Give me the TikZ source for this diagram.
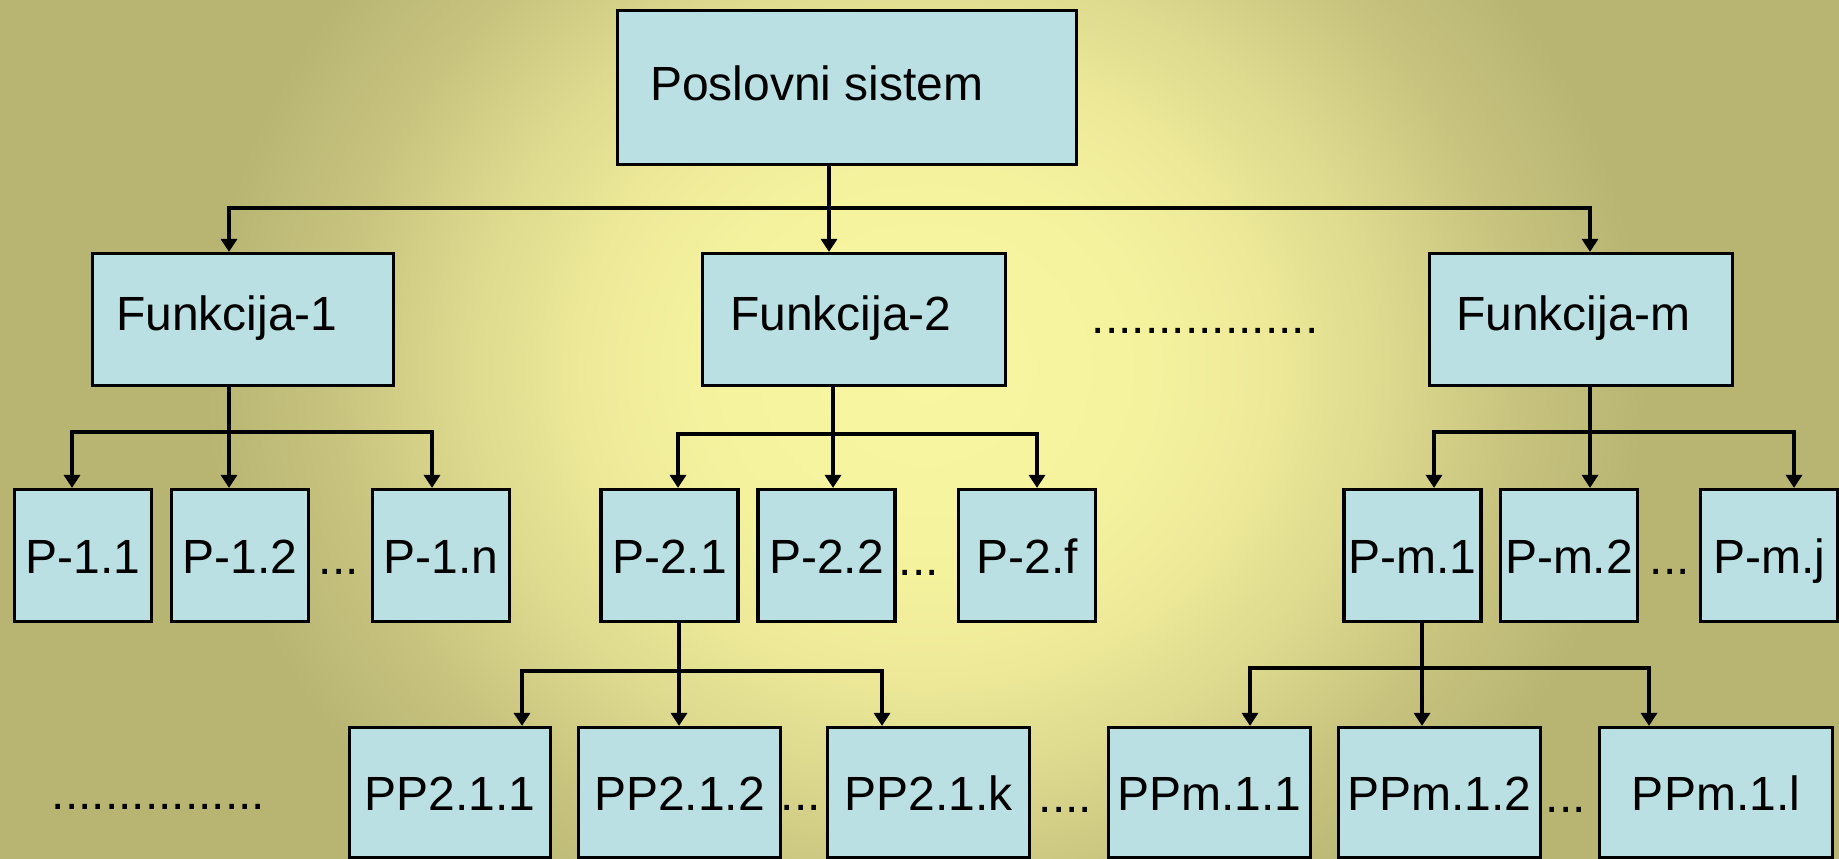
\documentclass[tikz,border=0pt]{standalone}
\usepackage{fontspec}
\setmainfont{Liberation Sans}
\usetikzlibrary{arrows.meta}

\definecolor{boxfill}{RGB}{187,224,227}
\definecolor{bgA}{RGB}{248,246,160}
\definecolor{bgB}{RGB}{247,244,159}
\definecolor{bgC}{RGB}{245,242,158}
\definecolor{bgD}{RGB}{236,232,152}
\definecolor{bgE}{RGB}{220,216,141}
\definecolor{bgF}{RGB}{200,196,127}
\definecolor{bgG}{RGB}{185,182,116}
\definecolor{bgH}{RGB}{184,180,114}

% soft yellow glow fading to olive towards the edges
% (the path's half-size corresponds to 25bp)
\pgfdeclareradialshading{glow}{\pgfpoint{0bp}{0bp}}{%
  color(0bp)=(bgA); color(5bp)=(bgB); color(8bp)=(bgC);
  color(12.25bp)=(bgD); color(16.25bp)=(bgE); color(20.5bp)=(bgF);
  color(24.75bp)=(bgG); color(25bp)=(bgH); color(50bp)=(bgH)}

\newcommand\lblfont{\fontsize{48pt}{56pt}\selectfont}

\begin{document}
\begin{tikzpicture}[x=1pt,y=-1pt,
  box/.style={draw=black, line width=3.2pt, fill=boxfill, inner sep=0pt,
              font=\lblfont, text height=36pt, text depth=0pt},
  lbl/.style={inner sep=0pt, anchor=base west, font=\lblfont},
  conn/.style={draw=black, line width=3.3pt},
  arr/.style={conn, -{Triangle[length=13pt,width=16pt]}}]

% page and background
\useasboundingbox (0,0) rectangle (1839,859);
\fill[bgH] (0,0) rectangle (1839,859);
\begin{scope}
  \clip (0,0) rectangle (1839,859);
  \shade[shading=glow] (205,-270) rectangle (1645,1010);
\end{scope}

% root
\node[box, minimum width=459pt, minimum height=154pt] (root) at (847,87.5) {};
\node[lbl] (rootT) at (650,100) {Poslovni sistem};

% functions
\node[box, minimum width=301pt, minimum height=132pt] (f1) at (243,319.5) {};
\node[box, minimum width=303pt, minimum height=132pt] (f2) at (854,319.5) {};
\node[box, minimum width=303pt, minimum height=132pt] (fm) at (1581,319.5) {};
\node[lbl] (f1T) at (116,330) {Funkcija-1};
\node[lbl] (f2T) at (730,330) {Funkcija-2};
\node[lbl] (fmT) at (1456,330) {Funkcija-m};
\node[lbl] (fdots) at (1091.5,333) {.................};

% processes
\node[box, minimum width=137pt, minimum height=132pt] (p11) at (83,555.5) {P-1.1};
\node[box, minimum width=137pt, minimum height=132pt] (p12) at (240,555.5) {P-1.2};
\node[box, minimum width=137pt, minimum height=132pt] (p1n) at (441,555.5) {P-1.n};
\node[box, minimum width=137pt, minimum height=132pt] (p21) at (669.5,555.5) {P-2.1};
\node[box, minimum width=137pt, minimum height=132pt] (p22) at (826.5,555.5) {P-2.2};
\node[box, minimum width=137pt, minimum height=132pt] (p2f) at (1027,555.5) {P-2.f};
\node[box, minimum width=137pt, minimum height=132pt] (pm1) at (1412.5,555.5) {P-m.1};
\node[box, minimum width=137pt, minimum height=132pt] (pm2) at (1569,555.5) {P-m.2};
\node[box, minimum width=137pt, minimum height=132pt] (pmj) at (1769,555.5) {P-m.j};
\node[lbl] (d1) at (318.5,574) {...};
\node[lbl] (d2) at (898.5,575) {...};
\node[lbl] (d3) at (1649.5,574) {...};

% sub-processes
\node[box, minimum width=201pt, minimum height=130pt] (pp211) at (450,792.5) {PP2.1.1};
\node[box, minimum width=202pt, minimum height=130pt] (pp212) at (679.5,792.5) {PP2.1.2};
\node[box, minimum width=202pt, minimum height=130pt] (pp21k) at (928.5,792.5) {PP2.1.k};
\node[box, minimum width=202pt, minimum height=130pt] (ppm11) at (1209.5,792.5) {PPm.1.1};
\node[box, minimum width=202pt, minimum height=130pt] (ppm12) at (1439.5,792.5) {PPm.1.2};
\node[box, minimum width=233pt, minimum height=130pt] (ppm1l) at (1716,792.5) {PPm.1.l};
\node[lbl] (d4) at (51.5,809) {................};
\node[lbl] (d5) at (780.5,810) {...};
\node[lbl] (d6) at (1038.5,812) {....};
\node[lbl] (d7) at (1545.5,812) {...};

% junctions on the branch lines
\coordinate (j0) at (829,208);  \coordinate (k1) at (229,208);  \coordinate (km) at (1590,208);
\coordinate (j1) at (229,432);  \coordinate (k11) at (72,432);  \coordinate (k1n) at (432,432);
\coordinate (j2) at (833,434);  \coordinate (k21) at (678,434); \coordinate (k2f) at (1037,434);
\coordinate (jm) at (1590,432); \coordinate (km1) at (1434,432); \coordinate (kmj) at (1794,432);
\coordinate (j3) at (679,671);  \coordinate (k3a) at (522,671); \coordinate (k3c) at (882,671);
\coordinate (j4) at (1422,668); \coordinate (k4a) at (1250,668); \coordinate (k4c) at (1649,668);

% root -> functions
\draw[conn] (root.south -| j0) -- (j0);
\draw[arr] (j0) -| (f1.north -| k1);
\draw[arr] (j0) -- (f2.north -| j0);
\draw[arr] (j0) -| (fm.north -| km);

% Funkcija-1 -> processes
\draw[conn] (f1.south -| j1) -- (j1);
\draw[arr] (j1) -| (p11.north -| k11);
\draw[arr] (j1) -- (p12.north -| j1);
\draw[arr] (j1) -| (p1n.north -| k1n);

% Funkcija-2 -> processes
\draw[conn] (f2.south -| j2) -- (j2);
\draw[arr] (j2) -| (p21.north -| k21);
\draw[arr] (j2) -- (p22.north -| j2);
\draw[arr] (j2) -| (p2f.north -| k2f);

% Funkcija-m -> processes
\draw[conn] (fm.south -| jm) -- (jm);
\draw[arr] (jm) -| (pm1.north -| km1);
\draw[arr] (jm) -- (pm2.north -| jm);
\draw[arr] (jm) -| (pmj.north -| kmj);

% P-2.1 -> sub-processes
\draw[conn] (p21.south -| j3) -- (j3);
\draw[arr] (j3) -| (pp211.north -| k3a);
\draw[arr] (j3) -- (pp212.north -| j3);
\draw[arr] (j3) -| (pp21k.north -| k3c);

% P-m.1 -> sub-processes
\draw[conn] (pm1.south -| j4) -- (j4);
\draw[arr] (j4) -| (ppm11.north -| k4a);
\draw[arr] (j4) -- (ppm12.north -| j4);
\draw[arr] (j4) -| (ppm1l.north -| k4c);
\end{tikzpicture}
\end{document}
